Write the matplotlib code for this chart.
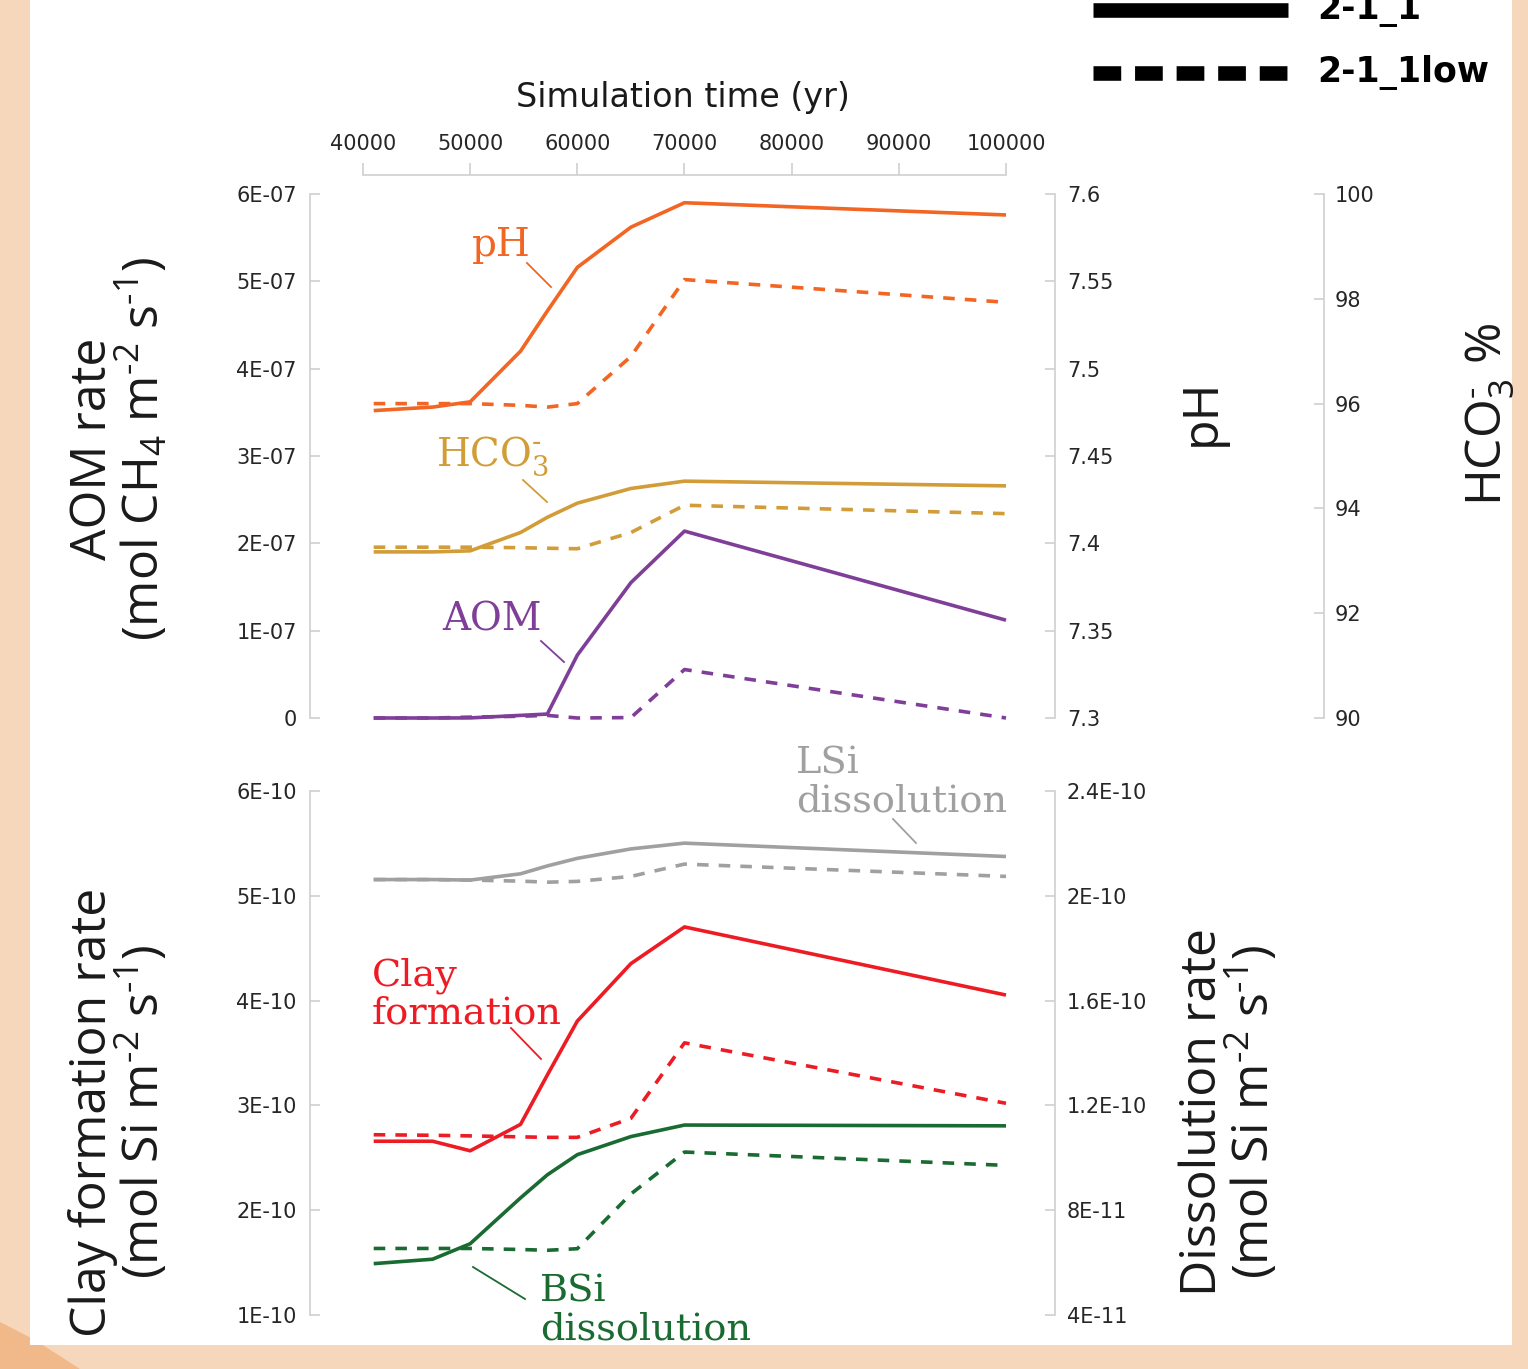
import matplotlib
matplotlib.use("Agg")
import matplotlib.pyplot as plt
from matplotlib.lines import Line2D
from matplotlib.patches import Rectangle, Polygon

# data
years = [41000, 46500, 50000, 54700, 57200, 60000, 65000, 70000, 100000]

ph_run = [7.476, 7.478, 7.481, 7.510, 7.533, 7.558, 7.581, 7.595, 7.588]
ph_low = [7.480, 7.480, 7.480, 7.479, 7.478, 7.480, 7.507, 7.551, 7.538]

hco3_run = [93.17, 93.17, 93.19, 93.54, 93.83, 94.10, 94.38, 94.52, 94.43]
hco3_low = [93.26, 93.26, 93.26, 93.25, 93.24, 93.23, 93.54, 94.06, 93.90]

aom_run = [0.0, 0.0, 0.001e-7, 0.03e-7, 0.045e-7, 0.72e-7, 1.55e-7, 2.14e-7, 1.12e-7]
aom_low = [0.0, 0.0, 0.01e-7, 0.02e-7, 0.03e-7, 0.0, 0.005e-7, 0.555e-7, 0.0]

lsi_run = [2.062e-10, 2.062e-10, 2.060e-10, 2.084e-10, 2.114e-10, 2.143e-10, 2.179e-10, 2.201e-10, 2.150e-10]
lsi_low = [2.062e-10, 2.062e-10, 2.060e-10, 2.056e-10, 2.052e-10, 2.055e-10, 2.074e-10, 2.121e-10, 2.074e-10]

clay_run = [2.658e-10, 2.658e-10, 2.567e-10, 2.819e-10, 3.29e-10, 3.805e-10, 4.353e-10, 4.703e-10, 4.053e-10]
clay_low = [2.720e-10, 2.715e-10, 2.709e-10, 2.700e-10, 2.695e-10, 2.695e-10, 2.877e-10, 3.597e-10, 3.02e-10]

bsi_run = [0.596e-10, 0.613e-10, 0.672e-10, 0.847e-10, 0.935e-10, 1.012e-10, 1.081e-10, 1.125e-10, 1.122e-10]
bsi_low = [0.654e-10, 0.654e-10, 0.654e-10, 0.650e-10, 0.647e-10, 0.653e-10, 0.862e-10, 1.022e-10, 0.971e-10]

time_ticks = [40000, 50000, 60000, 70000, 80000, 90000, 100000]
aom_ticks = [0, 1e-7, 2e-7, 3e-7, 4e-7, 5e-7, 6e-7]
aom_labels = ["0", "1E-07", "2E-07", "3E-07", "4E-07", "5E-07", "6E-07"]
ph_ticks = [7.3, 7.35, 7.4, 7.45, 7.5, 7.55, 7.6]
ph_labels = ["7.3", "7.35", "7.4", "7.45", "7.5", "7.55", "7.6"]
hco3_ticks = [90, 92, 94, 96, 98, 100]
clay_ticks = [1e-10, 2e-10, 3e-10, 4e-10, 5e-10, 6e-10]
clay_labels = ["1E-10", "2E-10", "3E-10", "4E-10", "5E-10", "6E-10"]
dis_ticks = [4e-11, 8e-11, 1.2e-10, 1.6e-10, 2e-10, 2.4e-10]
dis_labels = ["4E-11", "8E-11", "1.2E-10", "1.6E-10", "2E-10", "2.4E-10"]

C_PH = "#f26522"
C_HCO3 = "#d29d38"
C_AOM = "#7f3f98"
C_LSI = "#a0a0a0"
C_CLAY = "#ed1c24"
C_BSI = "#1a6b32"
SPINE = "#cfcfcf"
TICKTXT = "#262626"
PEACH = "#f7d7bb"

W, H = 1528, 1369


def fx(x):
    return x / W


def fy(y):
    return 1 - y / H


fig = plt.figure(figsize=(W / 100, H / 100), dpi=100, facecolor=PEACH)
fig.patches.append(Polygon([[0, fy(1322)], [fx(35), fy(1340)], [fx(80), 0], [0, 0]],
                           closed=True, transform=fig.transFigure, facecolor="#f1b98a",
                           edgecolor="none", zorder=-3))
fig.patches.append(Rectangle((fx(30), fy(1345)), fx(1512) - fx(30), 1 - fy(1345),
                             transform=fig.transFigure, facecolor="white",
                             edgecolor="none", zorder=-2))

ax_w = fx(1055) - fx(310)
ax1 = fig.add_axes([fx(310), fy(718), ax_w, (718 - 194) / H])
ax2 = fig.add_axes([fx(310), fy(1315), ax_w, (1315 - 791) / H])
for a in (ax1, ax2):
    a.set_facecolor("none")
ax_ph = ax1.twinx()
ax_hco = ax1.twinx()
ax_dis = ax2.twinx()
ax_hco.spines["right"].set_position(("axes", (1324 - 310) / 745))

xlim = (35055, 104572)
tick_len = 7.2  # points


def style_y(ax, side, ticks, labels, lim, pad):
    for s in ax.spines.values():
        s.set_visible(False)
    ax.spines[side].set_visible(True)
    ax.spines[side].set_color(SPINE)
    ax.spines[side].set_linewidth(1.2)
    ax.set_xlim(xlim)
    ax.set_ylim(lim)
    ax.set_yticks(ticks, labels)
    ax.tick_params(axis="y", direction="in", length=tick_len, width=1.2, color=SPINE,
                   labelsize=15, labelcolor=TICKTXT, pad=pad,
                   left=(side == "left"), labelleft=(side == "left"),
                   right=(side == "right"), labelright=(side == "right"))
    ax.tick_params(axis="x", bottom=False, labelbottom=False, top=False, labeltop=False)


style_y(ax1, "left", aom_ticks, aom_labels, (0, 6e-7), 9.5)
style_y(ax_ph, "right", ph_ticks, ph_labels, (7.3, 7.6), 8.5)
style_y(ax_hco, "right", hco3_ticks, [str(t) for t in hco3_ticks], (90, 100), 7.5)
style_y(ax2, "left", clay_ticks, clay_labels, (1e-10, 6e-10), 9.5)
style_y(ax_dis, "right", dis_ticks, dis_labels, (4e-11, 2.4e-10), 8.5)

# time axis above the top panel
ax1.spines["top"].set_visible(True)
ax1.spines["top"].set_color(SPINE)
ax1.spines["top"].set_linewidth(1.2)
ax1.spines["top"].set_position(("outward", 14))
ax1.spines["top"].set_bounds(40000, 100000)
ax1.set_xticks(time_ticks, [str(t) for t in time_ticks])
ax1.tick_params(axis="x", top=True, labeltop=True, direction="out", length=8.5, width=1.2,
                color=SPINE, labelsize=15, labelcolor=TICKTXT, pad=6)

lw = 2.6
dash = (3.2, 2.8)
series = [
    (ax_ph, ph_run, ph_low, C_PH),
    (ax_hco, hco3_run, hco3_low, C_HCO3),
    (ax1, aom_run, aom_low, C_AOM),
    (ax_dis, lsi_run, lsi_low, C_LSI),
    (ax2, clay_run, clay_low, C_CLAY),
    (ax_dis, bsi_run, bsi_low, C_BSI),
]
for ax, run, low, col in series:
    ax.plot(years, low, color=col, lw=lw, dashes=dash, dash_capstyle="butt", clip_on=False)
    ax.plot(years, run, color=col, lw=lw, solid_capstyle="butt", clip_on=False)

# curve labels with leader lines (figure pixel positions)
serif = "DejaVu Serif"
def tag(x, y, s, col, leader, size=28):
    fig.text(fx(x), fy(y), s, color=col, fontsize=size, family=serif,
             ha="left", va="baseline", linespacing=1.08)
    (x0, y0), (x1, y1) = leader
    fig.add_artist(Line2D([fx(x0), fx(x1)], [fy(y0), fy(y1)], color=col, lw=1.3))

tag(472, 256, "pH", C_PH, ((527, 263), (551, 287)))
tag(436, 466, r"HCO$_\mathregular{3}^{\mathregular{‐}}$", C_HCO3, ((523, 480), (547, 502)))
tag(442, 631, "AOM", C_AOM, ((541, 641), (564, 662)))
tag(796, 812, "LSi\ndissolution", C_LSI, ((893, 819), (916, 843)), 27.5)
tag(372, 1024, "Clay\nformation", C_CLAY, ((511, 1028), (541, 1059)), 27.5)
tag(540, 1340, "BSi\ndissolution", C_BSI, ((473, 1267), (525, 1299)), 27.5)

# axis titles
lab = dict(family=["Open Sans", "DejaVu Sans"], color="#1a1a1a", fontsize=36,
           rotation=90, ha="center", va="center")
fig.text(fx(683), fy(97), "Simulation time (yr)", family="DejaVu Sans", fontsize=24,
         color="#1a1a1a", ha="center", va="center")
fig.text(fx(93), fy(449), "AOM rate", **lab)
fig.text(fx(143), fy(449), r"(mol CH$_\mathregular{4}$ m$^\mathregular{‐2}$ s$^\mathregular{‐1}$)", **lab)
fig.text(fx(93), fy(1112), "Clay formation rate", **lab)
fig.text(fx(143), fy(1112), r"(mol Si m$^\mathregular{‐2}$ s$^\mathregular{‐1}$)", **lab)
fig.text(fx(1203), fy(1112), "Dissolution rate", **lab)
fig.text(fx(1253), fy(1112), r"(mol Si m$^\mathregular{‐2}$ s$^\mathregular{‐1}$)", **lab)
fig.text(fx(1202), fy(412), "pH", **lab)
fig.text(fx(1490), fy(415), r"HCO$_\mathregular{3}^{\mathregular{‐}}$ %", **lab)

# legend in the top right corner
fig.add_artist(Line2D([fx(1093), fx(1288)], [fy(10), fy(10)], color="black", lw=10.5,
                      solid_capstyle="butt"))
fig.add_artist(Line2D([fx(1093), fx(1288)], [fy(73), fy(73)], color="black", lw=10.5,
                      dashes=(1.9, 0.95), dash_capstyle="butt"))
fig.text(fx(1317), fy(10), "2-1_1", fontsize=25, fontweight="bold", family="DejaVu Sans",
         ha="left", va="center")
fig.text(fx(1317), fy(73), "2-1_1low", fontsize=25, fontweight="bold", family="DejaVu Sans",
         ha="left", va="center")

fig.savefig("out.png", dpi=100, facecolor=PEACH)
